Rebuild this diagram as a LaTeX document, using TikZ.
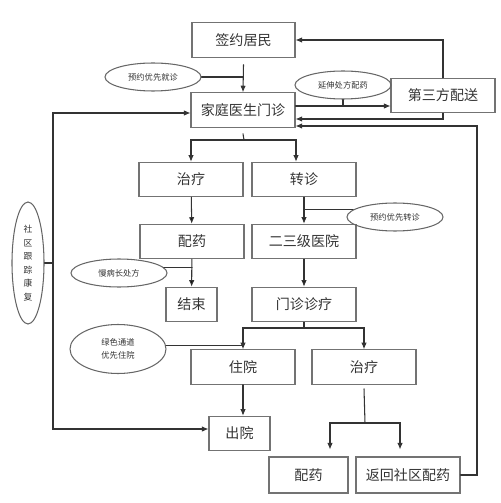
\documentclass[tikz,border=0pt]{standalone}
\usepackage{fontspec}
\newfontfamily\cjk{Noto Sans CJK SC}
\usetikzlibrary{shapes.geometric,arrows.meta}

\begin{document}
\begin{tikzpicture}
		[x=0.02cm,y=-0.02cm,line cap=round,>={Latex[length=1.3mm,width=1.1mm]},
		%Styles
		line/.style={draw=black!80,semithick},
		main node/.style={rectangle,draw=black!55,semithick,minimum width=#1,minimum height=0.69cm,inner sep=0pt,text=black!80,font=\cjk\fontsize{8}{9}\selectfont},
		main node/.default=2.08cm,
		note node/.style={ellipse,draw=black!60,semithick,minimum width=1.92cm,minimum height=0.56cm,inner sep=0pt,text=black!80,align=center,font=\cjk\fontsize{4.7}{7.4}\selectfont}
		]
		
		\useasboundingbox (0,0) rectangle (500,503);
		
		%The graphic
		\node[main node=2.06cm] (qianyue) at (243.5,40) {签约居民};
		\node[main node] (jiating) at (243,110) {家庭医生门诊};
		\node[main node] (disanfang) at (443,95.5) {第三方配送};
		\node[main node] (zhiliao) at (191,179.5) {治疗};
		\node[main node] (zhuanzhen) at (304,179.5) {转诊};
		\node[main node] (peiyao) at (192,241.5) {配药};
		\node[main node] (erji) at (304,241.5) {二三级医院};
		\node[main node=1.02cm] (jieshu) at (191.5,304.5) {结束};
		\node[main node] (menzhen) at (304,304.5) {门诊诊疗};
		\node[main node] (zhuyuan) at (243,367) {住院};
		\node[main node] (zhiliaob) at (364,367) {治疗};
		\node[main node=1.22cm] (chuyuan) at (239.5,433.5) {出院};
		\node[main node=1.58cm,minimum height=0.72cm] (peiyaob) at (308.5,475) {配药};
		\node[main node,minimum height=0.72cm] (fanhui) at (408,475) {返回社区配药};
		
		\node[note node] (e1) at (153,77) {预约优先就诊};
		\node[note node] (e2) at (343,85) {延伸处方配药};
		\node[note node] (e3) at (395,217) {预约优先转诊};
		\node[note node] (e4) at (119,273) {慢病长处方};
		\node[note node,minimum height=0.98cm] (e5) at (118,349) {绿色通道\\优先住院};
		\node[note node,minimum width=0.64cm,minimum height=2.44cm,font=\cjk\fontsize{5}{7.7}\selectfont] (e6) at (28,263) {社\\区\\跟\\踪\\康\\复};
		
		\coordinate (out) at ([yshift=0.08cm]jiating.east);
		\coordinate (back) at ([yshift=-0.18cm]jiating.east);
		\coordinate (ret) at ([yshift=-0.32cm]jiating.east);
		\coordinate (right) at (477,300);
		\coordinate (track) at (53,263);
		\coordinate (split a) at (244,140);
		\coordinate (split b) at (304,328);
		\coordinate (split c) at (365,423);
		
		%Top part
		\draw[line,->] ([yshift=-0.14cm]qianyue.south) -- (jiating.north);
		\draw[line] (e1.east) -- (e1.east -| jiating.north);
		\draw[line,->] (out) -- (out -| disanfang.west);
		\draw[line] (e2.south) -- (e2.south |- out);
		\draw[line,->] (disanfang.north) |- (qianyue.east);
		\draw[line,->] (disanfang.south) |- (back);
		\draw[line,->] (fanhui.east) -| (right) |- (ret);
		\draw[line,<->] ([yshift=-0.06cm]jiating.west) -| (track) |- ([yshift=0.09cm]chuyuan.west);
		\draw[line] (e6.east) -- (track);
		
		%Middle part
		\draw[line] ([yshift=-0.12cm]jiating.south) -- (split a);
		\draw[line,->] (split a) -| (zhiliao.north);
		\draw[line,->] (split a) -| ([xshift=-0.16cm]zhuanzhen.north);
		\path[line,->]
			(zhiliao)	edge	(peiyao)
			(zhuanzhen)	edge	(erji)
			(peiyao)	edge	(jieshu)
			(erji)	edge	(menzhen);
		\draw[line] (e3.170) -- (e3.170 -| zhuanzhen.south);
		\draw[line] (e4.7) -- (e4.7 -| peiyao.south);
		
		%Bottom part
		\draw[line] (menzhen.south) -- (split b);
		\draw[line,->] (split b) -| (zhuyuan.north);
		\draw[line,->] (split b) -| (zhiliaob.north);
		\draw[line] (e5.4) -- (e5.4 -| zhuyuan.north);
		\draw[line,->] (zhuyuan.south) -- (zhuyuan.south |- chuyuan.north);
		\draw[line] ([yshift=-0.08cm]zhiliaob.south) -- (split c);
		\draw[line,->,shorten >=0.14cm] (split c) -| ([xshift=0.43cm]peiyaob.north);
		\draw[line,->,shorten >=0.14cm] (split c) -| ([xshift=-0.16cm]fanhui.north);
	\end{tikzpicture}
\end{document}
